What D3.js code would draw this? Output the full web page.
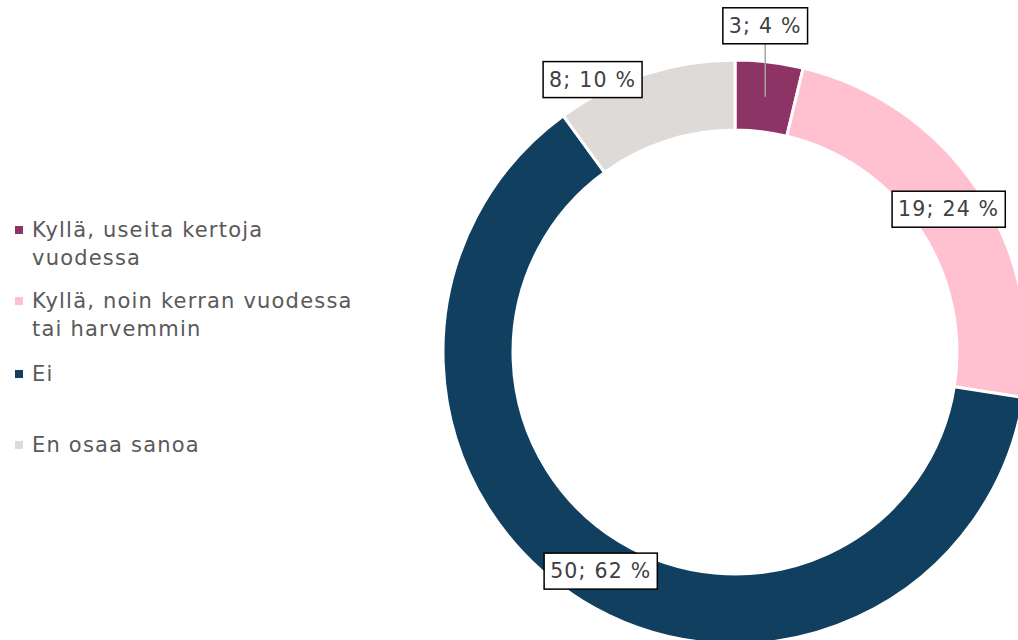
<!DOCTYPE html>
<html lang="fi">
<head>
<meta charset="UTF-8">
<script src="https://d3js.org/d3.v7.min.js"></script>
<style>
  body { margin: 0; background: #fff; }
  text { font-family: "DejaVu Sans", "Noto Sans", sans-serif; letter-spacing: 1.2px; }
</style>
</head>
<body>
<div id="chart"></div>
<script>
// data
var categories = ["Kyllä, useita kertoja vuodessa", "Kyllä, noin kerran vuodessa tai harvemmin", "Ei", "En osaa sanoa"];
var legendLines = [["Kyllä, useita kertoja", "vuodessa"], ["Kyllä, noin kerran vuodessa", "tai harvemmin"], ["Ei"], ["En osaa sanoa"]];
var counts = [3, 19, 50, 8];
var percents = [4, 24, 62, 10];
var colors = ["#8E3366", "#FFC0CF", "#103F60", "#DEDAD7"];

var W = 1018, H = 640;
var cx = 735, cy = 352, outerR = 292, innerR = 222;

var svg = d3.select("#chart").append("svg")
    .attr("width", W).attr("height", H);

var pie = d3.pie().sort(null).value(function(d) { return d; });
var arc = d3.arc().innerRadius(innerR).outerRadius(outerR);
var arcs = pie(counts);

var g = svg.append("g").attr("transform", "translate(" + cx + "," + cy + ")");

g.selectAll("path.slice")
  .data(arcs)
  .enter().append("path")
    .attr("class", "slice")
    .attr("d", arc)
    .attr("fill", function(d, i) { return colors[i]; })
    .attr("stroke", "#fff")
    .attr("stroke-width", 3);

// label offsets from centroid (for the labels that were moved out)
var labelShift = [[0, -71], null, null, [-63, -28]];

arcs.forEach(function(d, i) {
  var c = arc.centroid(d);
  var lx = c[0], ly = c[1];
  if (labelShift[i]) { lx += labelShift[i][0]; ly += labelShift[i][1]; }
  var lg = g.append("g");
  var t = lg.append("text")
      .attr("x", lx).attr("y", ly)
      .attr("text-anchor", "middle")
      .attr("dominant-baseline", "central")
      .attr("font-size", 20.5)
      .attr("fill", "#404040")
      .text(counts[i] + "; " + percents[i] + " %");
  var bb = t.node().getBBox();
  var padX = 6, boxH = 36;
  if (labelShift[i] && i === 0) {
    lg.insert("line", "text")
      .attr("x1", c[0]).attr("y1", c[1])
      .attr("x2", lx).attr("y2", ly + boxH / 2)
      .attr("stroke", "#A6A6A6").attr("stroke-width", 1.5);
  }
  lg.insert("rect", "text")
    .attr("x", bb.x - padX).attr("y", ly - boxH / 2)
    .attr("width", bb.width + padX * 2).attr("height", boxH)
    .attr("fill", "#fff").attr("stroke", "#000").attr("stroke-width", 1.5);
});

// legend
var legendY = [230, 301, 374, 445];
var leg = svg.append("g");
legendLines.forEach(function(lines, i) {
  leg.append("rect")
    .attr("x", 15).attr("y", legendY[i] - 4)
    .attr("width", 8).attr("height", 8)
    .attr("fill", colors[i]);
  lines.forEach(function(s, j) {
    leg.append("text")
      .attr("x", 32).attr("y", legendY[i] + j * 28)
      .attr("dominant-baseline", "central")
      .attr("font-size", 21)
      .attr("fill", "#595959")
      .text(s);
  });
});
</script>
</body>
</html>
